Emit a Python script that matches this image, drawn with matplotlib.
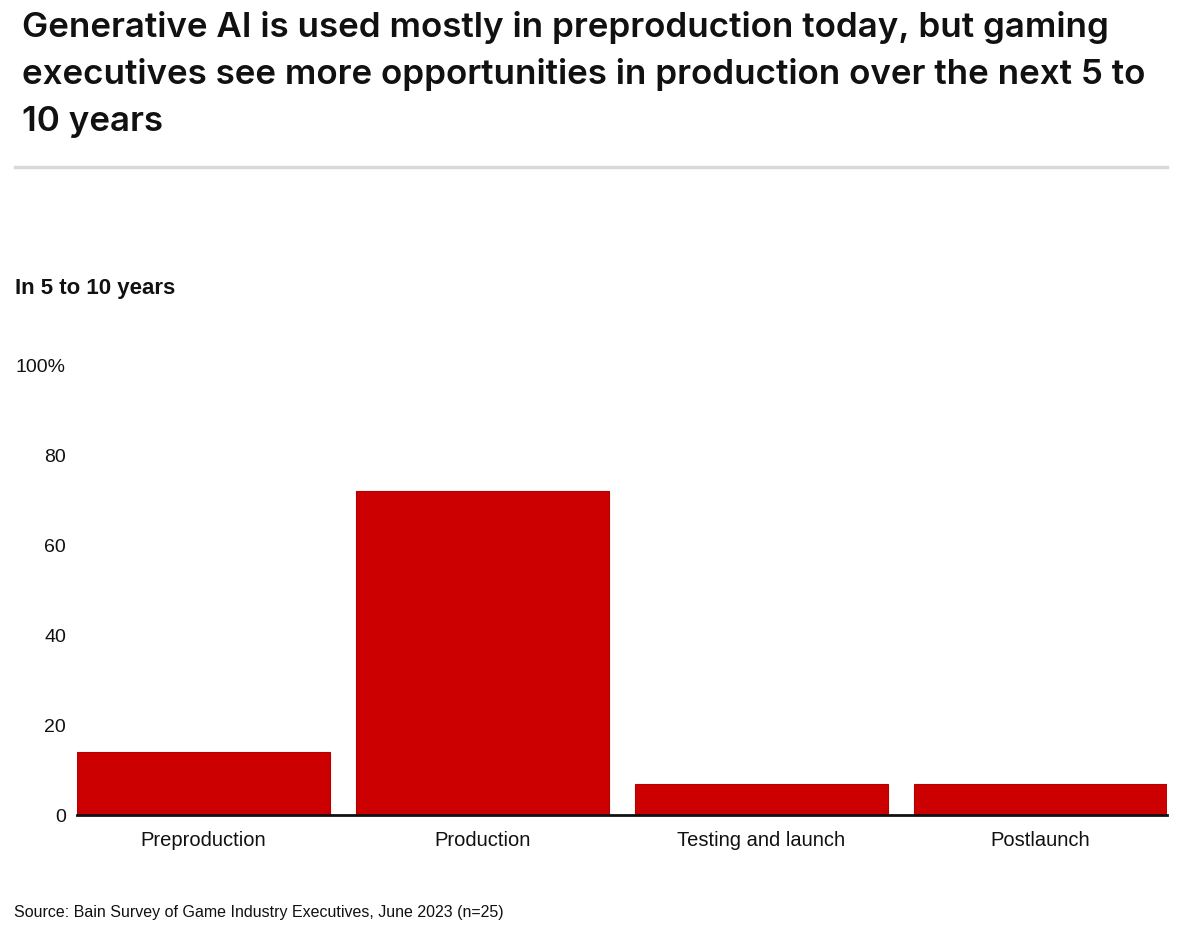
import matplotlib
matplotlib.use("Agg")
import matplotlib.pyplot as plt
from matplotlib.lines import Line2D

categories = ["Preproduction", "Production", "Testing and launch", "Postlaunch"]
values = [14, 72, 7, 7]
yticks = [0, 20, 40, 60, 80, 100]
ytick_labels = ["0", "20", "40", "60", "80", "100%"]

title_lines = ["Generative AI is used mostly in preproduction today, but gaming",
               "executives see more opportunities in production over the next 5 to",
               "10 years"]
subtitle = "In 5 to 10 years"
source = "Source: Bain Survey of Game Industry Executives, June 2023 (n=25)"

W, H = 1200, 937
fig = plt.figure(figsize=(W / 100, H / 100), dpi=100)
fig.patch.set_facecolor("white")

def fx(px):
    return px / W

def fy(py):
    return 1 - py / H

# axes: x 77..1167, y 366..816
ax = fig.add_axes([fx(77), fy(816), fx(1167 - 77), (816 - 366) / H])
x = list(range(len(categories)))
ax.bar(x, values, width=0.91, color="#cc0000", edgecolor="#b30000", linewidth=0.8, zorder=2)
ax.set_xlim(-0.4535, 3.4535)
ax.set_ylim(0, 100)
ax.set_yticks(yticks)
ax.set_yticklabels(ytick_labels, family="Liberation Sans", fontsize=14, color="#111111")
ax.set_xticks(x)
ax.set_xticklabels(categories, family="Liberation Sans", fontsize=14.5, color="#111111")
for s in ["top", "right", "left"]:
    ax.spines[s].set_visible(False)
ax.spines["bottom"].set_linewidth(2)
ax.spines["bottom"].set_color("#111111")
ax.spines["bottom"].set_zorder(3)
ax.tick_params(axis="y", length=0, pad=8)
ax.tick_params(axis="x", length=0, pad=11)
for lbl in ax.get_yticklabels():
    lbl.set_horizontalalignment("right")

for i, line in enumerate(title_lines):
    fig.text(fx(22), fy(37 + 47 * i), line, family="Inter", fontweight="semibold", fontsize=25.2,
             va="baseline", ha="left", color="#111111")
fig.add_artist(Line2D([fx(15), fx(1167)], [fy(168), fy(168)], color="#d9d9d9", linewidth=2.5))
fig.text(fx(15), fy(289), subtitle, family="Liberation Sans", fontweight="bold", fontsize=16,
         va="center", ha="left", color="#111111")
fig.text(fx(14), fy(913), source, family="Liberation Sans", fontsize=11.5,
         va="center", ha="left", color="#111111")

fig.savefig("out.png", dpi=100)
